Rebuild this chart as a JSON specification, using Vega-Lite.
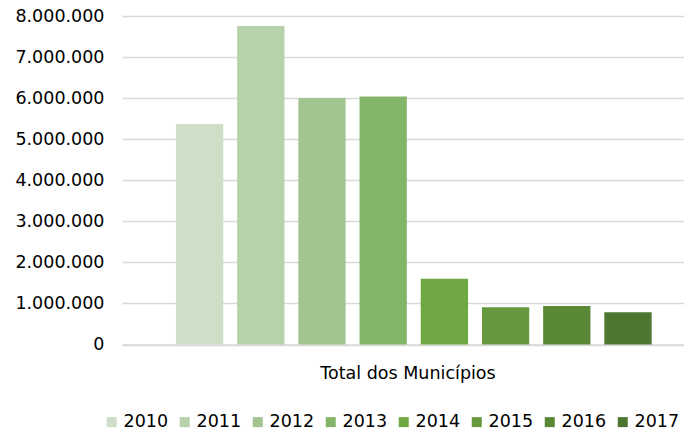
{
  "$schema": "https://vega.github.io/schema/vega-lite/v6.json",
  "autosize": {"type": "none"},
  "padding": {"left": 122, "top": 16, "right": 0, "bottom": 90.5},
  "width": 562,
  "height": 328.5,
  "background": "white",
  "data": {
    "values": [
      {"categoria": "Total dos Municípios", "ano": "2010", "valor": 5372000},
      {"categoria": "Total dos Municípios", "ano": "2011", "valor": 7757000},
      {"categoria": "Total dos Municípios", "ano": "2012", "valor": 6005000},
      {"categoria": "Total dos Municípios", "ano": "2013", "valor": 6040000},
      {"categoria": "Total dos Municípios", "ano": "2014", "valor": 1600000},
      {"categoria": "Total dos Municípios", "ano": "2015", "valor": 905000},
      {"categoria": "Total dos Municípios", "ano": "2016", "valor": 937000},
      {"categoria": "Total dos Municípios", "ano": "2017", "valor": 783000}
    ]
  },
  "config": {
    "view": {"stroke": null},
    "font": "DejaVu Sans"
  },
  "mark": {"type": "bar"},
  "encoding": {
    "x": {
      "field": "categoria",
      "type": "nominal",
      "scale": {"paddingInner": 0, "paddingOuter": 0},
      "axis": {
        "title": null,
        "ticks": false,
        "domain": true,
        "domainColor": "#d9d9d9",
        "domainWidth": 1.5,
        "labelFont": "DejaVu Sans",
        "labelFontSize": 17.5,
        "labelColor": "#000000",
        "labelPadding": 20,
        "labelOffset": 5,
        "labelAngle": 0
      }
    },
    "xOffset": {
      "field": "ano",
      "type": "nominal",
      "scale": {"paddingInner": 0.227, "paddingOuter": 0.705, "align": 0.625}
    },
    "y": {
      "field": "valor",
      "type": "quantitative",
      "scale": {"domain": [0, 8000000], "nice": false},
      "axis": {
        "title": null,
        "ticks": false,
        "domain": false,
        "values": [0, 1000000, 2000000, 3000000, 4000000, 5000000, 6000000, 7000000, 8000000],
        "labelExpr": "replace(format(datum.value, ',d'), /,/g, '.')",
        "labelFont": "DejaVu Sans",
        "labelFontSize": 17.5,
        "labelColor": "#000000",
        "labelPadding": 18,
        "gridColor": "#d9d9d9",
        "gridWidth": 1.5
      }
    },
    "color": {
      "field": "ano",
      "type": "nominal",
      "scale": {
        "domain": ["2010", "2011", "2012", "2013", "2014", "2015", "2016", "2017"],
        "range": ["#cfdec7", "#b7d2ab", "#a2c58f", "#83b569", "#6fa743", "#66993e", "#598937", "#4d7731"]
      },
      "legend": {
        "title": null,
        "orient": "none",
        "direction": "horizontal",
        "columns": 8,
        "legendX": -19,
        "legendY": 397,
        "padding": 0,
        "symbolType": "square",
        "symbolSize": 100,
        "symbolStrokeWidth": 0,
        "labelFont": "DejaVu Sans",
        "labelFontSize": 17.5,
        "labelColor": "#000000",
        "labelOffset": 3,
        "columnPadding": 7
      }
    }
  }
}
